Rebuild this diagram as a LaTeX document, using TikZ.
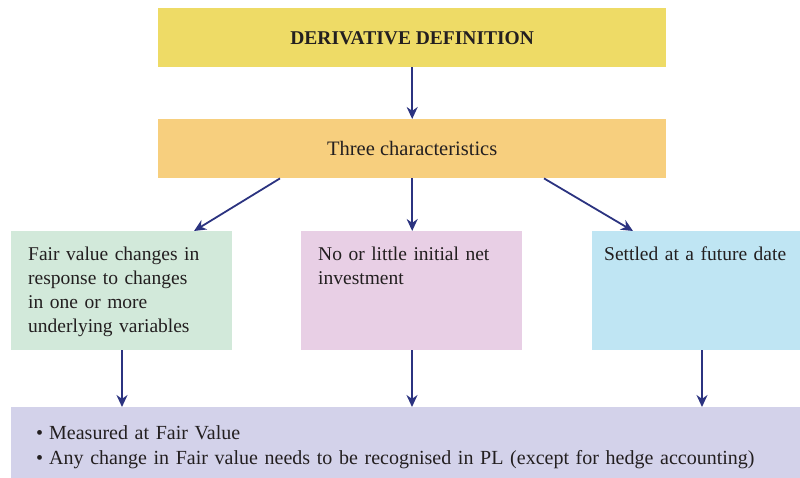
\documentclass[tikz,border=0pt]{standalone}
\usepackage{fontspec}
\setmainfont{Liberation Serif}
\usetikzlibrary{arrows.meta,calc}
\definecolor{cyellow}{HTML}{EEDB66}
\definecolor{corange}{HTML}{F7CF7E}
\definecolor{cgreen}{HTML}{D2E9DA}
\definecolor{cpink}{HTML}{E8CFE5}
\definecolor{cblue}{HTML}{BFE5F3}
\definecolor{clav}{HTML}{D3D2EA}
\definecolor{carrow}{HTML}{2B3380}
\definecolor{ctext}{HTML}{231F20}
\begin{document}
\begin{tikzpicture}[x=1pt,y=-1pt,
  boxbg/.style={fill=#1, draw=none, inner sep=0pt, anchor=north west},
  txt/.style={anchor=north west, inner sep=0pt, align=left, text=ctext,
    font=\fontsize{19.5}{24}\selectfont},
  conn/.style={draw=carrow, line width=1.8pt, -{Stealth[length=12pt,width=11pt]}}]
\useasboundingbox (0,0) rectangle (800,478);
\node[boxbg=cyellow, minimum width=508pt, minimum height=59pt, text=ctext,
  font=\bfseries\fontsize{19.5}{22}\selectfont] (def) at (158,8) {DERIVATIVE DEFINITION};
\node[boxbg=corange, minimum width=508pt, minimum height=59pt, text=ctext,
  font=\fontsize{20.5}{22}\selectfont] (three) at (158,119) {Three characteristics};
\node[boxbg=cgreen, minimum width=221pt, minimum height=119pt] (fair) at (11,231) {};
\node[boxbg=cpink, minimum width=221pt, minimum height=119pt] (noinv) at (301,231) {};
\node[boxbg=cblue, minimum width=208pt, minimum height=119pt] (settled) at (592,231) {};
\node[boxbg=clav, minimum width=789pt, minimum height=71pt] (meas) at (11,407) {};
\node[txt, text width=205pt] (fairt) at ($(fair.north west)+(17,16)$)
  {Fair value changes in\\response to changes\\in one or more\\underlying variables};
\node[txt, text width=205pt] (noinvt) at ($(noinv.north west)+(17,16)$)
  {No or little initial net\\investment};
\node[txt, text width=205pt] (settledt) at ($(settled.north west)+(12,16)$)
  {Settled at a future date};
\node[txt, text width=770pt, font=\fontsize{20}{25}\selectfont] (meast) at ($(meas.north west)+(25,18)$)
  {\textbullet\hspace{6pt}Measured at Fair Value\\\textbullet\hspace{6pt}Any change in Fair value needs to be recognised in PL (except for hedge accounting)};
\coordinate (o1) at ($(three.south west)+(122,0)$);
\coordinate (o3) at ($(three.south west)+(386,0)$);
\coordinate (g1) at ($(fair.north west)+(183,0)$);
\coordinate (b1) at ($(settled.north west)+(41,0)$);
\draw[conn] (def.south) -- (three.north);
\draw[conn] (o1) -- (g1);
\draw[conn] (three.south) -- (noinv.north -| three.south);
\draw[conn] (o3) -- (b1);
\draw[conn] (fair.south -| 122,0) -- (meas.north -| 122,0);
\draw[conn] (noinv.south -| 412,0) -- (meas.north -| 412,0);
\draw[conn] (settled.south -| 702,0) -- (meas.north -| 702,0);
\end{tikzpicture}
\end{document}
